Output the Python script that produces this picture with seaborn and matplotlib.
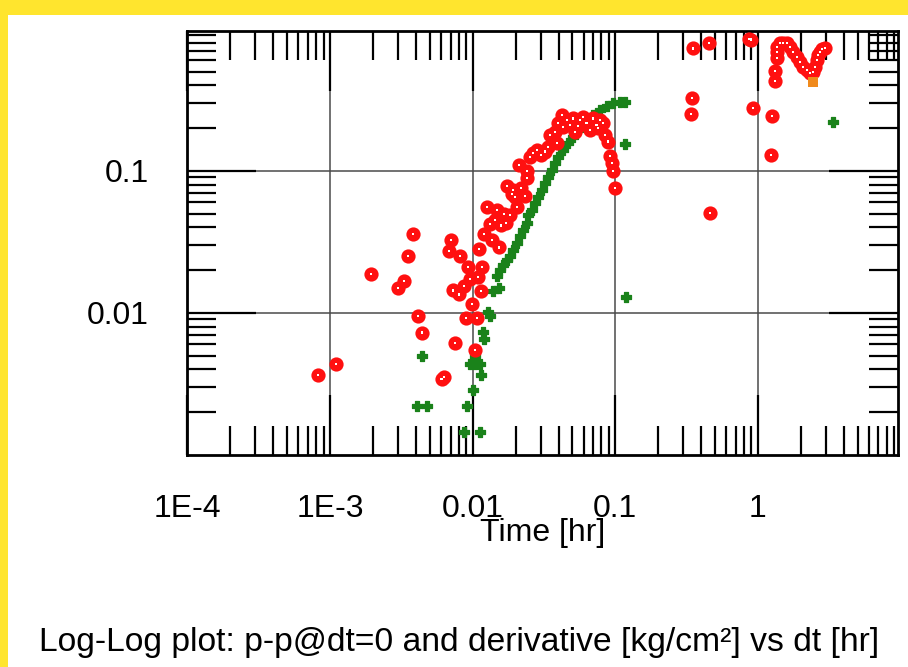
import matplotlib
matplotlib.use('Agg')
import matplotlib.pyplot as plt
import matplotlib.ticker as mticker
import seaborn as sns
import pandas as pd
import numpy as np

# pressure change p-p@dt=0 (green)
dp_time = [
    4.05e-3, 4.76e-3, 4.43e-3, 8.73e-3, 0.01124, 9.08e-3, 0.01009, 0.01143,
    9.57e-3, 0.01038, 0.01124, 0.01043, 0.01175, 0.0120, 0.01274, 0.01321,
    0.0138, 0.01536,
    0.01474, 0.01553, 0.01638, 0.0173, 0.01826, 0.01926, 0.02034, 0.02146,
    0.02263, 0.0239, 0.02453, 0.02592, 0.02734, 0.02884, 0.03046, 0.03212,
    0.03388, 0.03579, 0.03775, 0.03981, 0.04315, 0.04679, 0.05072, 0.05497,
    0.05961, 0.06462, 0.07004, 0.07804, 0.08697, 0.09674, 0.1078, 0.1168,
    0.1168, 0.118, 3.373,
]
dp_value = [
    2.21e-3, 2.21e-3, 5.01e-3, 1.46e-3, 1.46e-3, 2.21e-3, 2.89e-3, 3.67e-3,
    4.34e-3, 4.34e-3, 4.34e-3, 4.95e-3, 7.31e-3, 6.57e-3, 0.01017, 9.46e-3,
    0.0142, 0.0150,
    0.01808, 0.02015, 0.02185, 0.02369, 0.02498, 0.02786, 0.03104, 0.03453,
    0.03849, 0.0429, 0.04906, 0.05319, 0.05929, 0.06598, 0.07354, 0.08198,
    0.09121, 0.1016, 0.1133, 0.126, 0.1405, 0.1565, 0.1742, 0.1941,
    0.2104, 0.2282, 0.2474, 0.2684, 0.2862, 0.299, 0.3054, 0.3069,
    0.154, 0.01295, 0.2209,
]

# derivative (red)
deriv_time = [
    8.27e-4, 1.10e-3, 1.94e-3, 2.98e-3, 3.32e-3, 3.54e-3, 3.84e-3, 4.12e-3,
    4.43e-3, 6.05e-3, 6.30e-3, 6.86e-3, 7.02e-3, 7.31e-3, 7.51e-3, 8.05e-3,
    8.18e-3, 8.69e-3, 8.98e-3, 9.23e-3, 9.57e-3, 9.89e-3, 0.01033, 0.01067,
    0.01094, 0.01112, 0.01143, 0.01167, 0.0120, 0.01265, 0.01328, 0.01365,
    0.01439, 0.01472, 0.01535, 0.01578, 0.01649, 0.01702, 0.0173, 0.01824,
    0.01884, 0.01926, 0.0199, 0.02056, 0.02101, 0.02193, 0.02339, 0.02392,
    0.0240, 0.02525, 0.02661, 0.02838, 0.03027, 0.03214, 0.03388, 0.03483,
    0.03776, 0.03882, 0.0398, 0.04208, 0.0432, 0.0456, 0.0481, 0.0508,
    0.0521, 0.0547, 0.0565, 0.0596, 0.0629, 0.0664, 0.0700, 0.0739,
    0.0755, 0.0780, 0.0824, 0.0846, 0.0893, 0.0918, 0.0943, 0.0968,
    0.0995, 0.339, 0.346, 0.352, 0.453, 0.461, 0.87, 0.89,
    0.918, 1.233, 1.26, 1.315, 1.315, 1.352, 1.352, 1.352,
    1.426, 1.504, 1.589, 1.676, 1.768, 1.867, 1.970, 2.078,
    2.195, 2.315, 2.443, 2.512, 2.580, 2.649, 2.721, 2.832, 2.949,
]
deriv_value = [
    0.00367, 0.00436, 0.0188, 0.0150, 0.0169, 0.0253, 0.0359, 0.00946,
    0.00728, 0.00345, 0.00352, 0.0274, 0.0327, 0.0144, 0.00611, 0.0135,
    0.0253, 0.0154, 0.00927, 0.0212, 0.0174, 0.01156, 0.00545, 0.00927,
    0.0178, 0.0282, 0.0142, 0.0212, 0.0359, 0.0558, 0.0424, 0.0326,
    0.0453, 0.0532, 0.0289, 0.0413, 0.0496, 0.0429, 0.0785, 0.0491,
    0.0686, 0.0735, 0.0659, 0.0556, 0.1096, 0.0756, 0.0667, 0.1005,
    0.0897, 0.126, 0.133, 0.1405, 0.1294, 0.1368, 0.148, 0.179,
    0.189, 0.157, 0.216, 0.247, 0.205, 0.228, 0.210, 0.234,
    0.189, 0.207, 0.228, 0.241, 0.216, 0.194, 0.234, 0.210,
    0.200, 0.228, 0.216, 0.179, 0.161, 0.127, 0.113, 0.100,
    0.0763, 0.250, 0.326, 0.727, 0.797, 0.0505, 0.85, 0.84,
    0.276, 0.1296, 0.242, 0.429, 0.504, 0.619, 0.689, 0.747,
    0.790, 0.797, 0.790, 0.747, 0.689, 0.636, 0.586, 0.541,
    0.513, 0.486, 0.499, 0.541, 0.603, 0.653, 0.689, 0.720, 0.728,
]

# single orange marker
mark_time = [2.443]
mark_value = [0.424]

x_ticks = [1e-4, 1e-3, 1e-2, 1e-1, 1]
x_tick_labels = ["1E-4", "1E-3", "0.01", "0.1", "1"]
y_ticks = [0.01, 0.1]
y_tick_labels = ["0.01", "0.1"]

dp = pd.DataFrame({"t": dp_time, "v": dp_value})
deriv = pd.DataFrame({"t": deriv_time, "v": deriv_value})
mark = pd.DataFrame({"t": mark_time, "v": mark_value})

sns.set_style("white")
plt.rcParams['font.family'] = ['Liberation Sans', 'DejaVu Sans']
plt.rcParams['text.color'] = 'black'

fig = plt.figure(figsize=(9.08, 6.67), dpi=100)
fig.patch.set_facecolor("#ffe52e")
# white sheet inside the yellow frame
fig.patches.append(plt.Rectangle((8 / 908, 0), 1, 1 - 15 / 667, transform=fig.transFigure,
                                 facecolor="white", edgecolor="none", zorder=-5))

ax = fig.add_axes([0.2064, 0.3178, 0.7826, 0.6357])
ax.set_zorder(2)
ax.set_facecolor("white")
ax.set_xscale("log")
ax.set_yscale("log")

sns.scatterplot(data=dp, x="t", y="v", ax=ax, color="#1a821a", marker="P",
                s=46, edgecolor="#1a821a", linewidth=0.9, zorder=3)
sns.scatterplot(data=deriv, x="t", y="v", ax=ax, color="#ff1010", marker="o",
                s=78, edgecolor="#ff1010", linewidth=1.4, zorder=4)
sns.scatterplot(data=deriv, x="t", y="v", ax=ax, color="white", marker="s",
                s=2.4, edgecolor="none", zorder=5)
sns.scatterplot(data=mark, x="t", y="v", ax=ax, color="#f08a1c", marker="s",
                s=50, edgecolor="none", zorder=6)

ax.set_xlim(1e-4, 9.6)
ax.set_ylim(1e-3, 0.965)

ax.xaxis.set_major_locator(mticker.FixedLocator(x_ticks))
ax.xaxis.set_major_formatter(mticker.FixedFormatter(x_tick_labels))
ax.yaxis.set_major_locator(mticker.FixedLocator(y_ticks))
ax.yaxis.set_major_formatter(mticker.FixedFormatter(y_tick_labels))
subs = np.arange(2, 10)
ax.xaxis.set_minor_locator(mticker.LogLocator(base=10, subs=subs, numticks=20))
ax.yaxis.set_minor_locator(mticker.LogLocator(base=10, subs=subs, numticks=20))
ax.xaxis.set_minor_formatter(mticker.NullFormatter())
ax.yaxis.set_minor_formatter(mticker.NullFormatter())

ax.tick_params(which="both", direction="in", top=True, right=True, bottom=True, left=True,
               color="black", width=1.6, labelsize=23, labelcolor="black")
ax.tick_params(axis="x", which="major", length=43, pad=28)
ax.tick_params(axis="y", which="major", length=50, pad=28)
ax.tick_params(which="minor", length=21)

ax.grid(which="major", color="#4a4a4a", linewidth=1.1)
ax.set_axisbelow(True)
for s in ax.spines.values():
    s.set_color("black")
    s.set_linewidth(2)

ax.set_xlabel("Time [hr]", fontsize=23, labelpad=-4, color="black")
ax.set_ylabel("")

fig.text(459 / 908, 1 - 643 / 667, "Log-Log plot: p-p@dt=0 and derivative [kg/cm²] vs dt [hr]",
         ha="center", va="center", fontsize=24.2, color="black")

fig.savefig("out.png", dpi=100, facecolor=fig.get_facecolor())
